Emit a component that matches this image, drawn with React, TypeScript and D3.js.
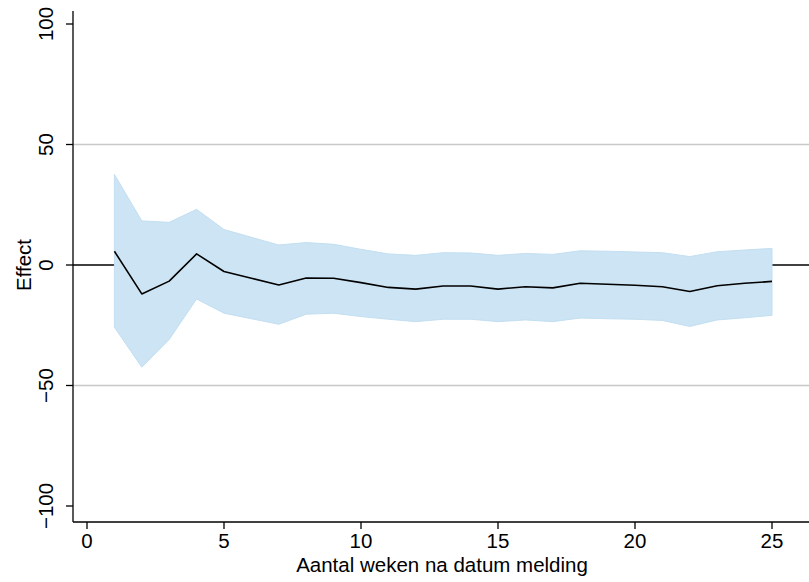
import React, { useEffect, useRef } from "react";
import * as d3 from "d3";

const weeks = [1, 2, 3, 4, 5, 6, 7, 8, 9, 10, 11, 12, 13, 14, 15, 16, 17, 18, 19, 20, 21, 22, 23, 24, 25];
const effect = [5.7, -12, -6.7, 4.6, -2.7, -5.5, -8.3, -5.4, -5.5, -7.3, -9.3, -10, -8.7, -8.7, -10, -9, -9.5, -7.6, -8, -8.4, -9, -11, -8.6, -7.6, -6.8];
const upper = [37.6, 18.3, 17.7, 23.1, 14.7, 11.5, 8.3, 9.3, 8.6, 6.5, 4.6, 4, 5.1, 5, 4, 4.8, 4.4, 5.9, 5.7, 5.4, 5.1, 3.5, 5.5, 6.2, 6.9];
const lower = [-25.8, -42.4, -30.9, -14.1, -20, -22.3, -24.6, -20.4, -20, -21.4, -22.5, -23.5, -22.5, -22.5, -23.5, -22.8, -23.5, -22, -22.3, -22.5, -23, -25.5, -22.8, -21.9, -20.9];
const xTicks = [0, 5, 10, 15, 20, 25];
const yTicks = [-100, -50, 0, 50, 100];
const gridValues = [-50, 50];

const W = 809;
const H = 582;
const font = "'Liberation Sans', Arial, Helvetica, sans-serif";
const fs = "20.5px";

export default function App() {
  const svgRef = useRef<SVGSVGElement>(null);

  useEffect(() => {
    const svg = d3.select(svgRef.current);
    svg.selectAll("*").remove();

    const left = 73;
    const right = 809;
    const top = 11;
    const bottom = 522;

    const x = d3.scaleLinear().domain([0, 25]).range([87, 772]);
    const y = d3.scaleLinear().domain([-100, 100]).range([506, 24]);

    // grid lines
    svg
      .selectAll(null)
      .data(gridValues)
      .enter()
      .append("line")
      .attr("x1", left)
      .attr("x2", right)
      .attr("y1", (d) => y(d))
      .attr("y2", (d) => y(d))
      .attr("stroke", "#c8c8c8")
      .attr("stroke-width", 1.3);

    // zero line
    svg
      .append("line")
      .attr("x1", left)
      .attr("x2", right)
      .attr("y1", y(0))
      .attr("y2", y(0))
      .attr("stroke", "#000")
      .attr("stroke-width", 1.6);

    const rows = weeks.map((w, i) => ({ w, e: effect[i], lo: lower[i], hi: upper[i] }));

    const area = d3
      .area<{ w: number; lo: number; hi: number }>()
      .x((d) => x(d.w))
      .y0((d) => y(d.lo))
      .y1((d) => y(d.hi));

    svg
      .append("path")
      .datum(rows)
      .attr("d", area)
      .attr("fill", "#cce4f3")
      .attr("stroke", "#c3dff2")
      .attr("stroke-width", 1);

    const line = d3
      .line<{ w: number; e: number }>()
      .x((d) => x(d.w))
      .y((d) => y(d.e));

    svg
      .append("path")
      .datum(rows)
      .attr("d", line)
      .attr("fill", "none")
      .attr("stroke", "#000")
      .attr("stroke-width", 1.6)
      .attr("stroke-linejoin", "round");

    // axes lines
    svg
      .append("line")
      .attr("x1", left)
      .attr("x2", left)
      .attr("y1", top)
      .attr("y2", bottom)
      .attr("stroke", "#000")
      .attr("stroke-width", 1.3);
    svg
      .append("line")
      .attr("x1", left)
      .attr("x2", right)
      .attr("y1", bottom)
      .attr("y2", bottom)
      .attr("stroke", "#000")
      .attr("stroke-width", 1.3);

    // x ticks
    const xt = svg.selectAll(null).data(xTicks).enter().append("g");
    xt.append("line")
      .attr("x1", (d) => x(d))
      .attr("x2", (d) => x(d))
      .attr("y1", bottom)
      .attr("y2", bottom + 7)
      .attr("stroke", "#000")
      .attr("stroke-width", 1.3);
    xt.append("text")
      .attr("x", (d) => x(d))
      .attr("y", 548)
      .attr("text-anchor", "middle")
      .style("font-family", font)
      .style("font-size", fs)
      .text((d) => d);

    // y ticks
    const yt = svg.selectAll(null).data(yTicks).enter().append("g");
    yt.append("line")
      .attr("x1", left - 7)
      .attr("x2", left)
      .attr("y1", (d) => y(d))
      .attr("y2", (d) => y(d))
      .attr("stroke", "#000")
      .attr("stroke-width", 1.3);
    yt.append("text")
      .attr("transform", (d) => `translate(53,${y(d)}) rotate(-90)`)
      .attr("text-anchor", "middle")
      .style("font-family", font)
      .style("font-size", fs)
      .text((d) => (d < 0 ? `\u2212${Math.abs(d)}` : `${d}`));

    // axis titles
    svg
      .append("text")
      .attr("x", 442)
      .attr("y", 572)
      .attr("text-anchor", "middle")
      .style("font-family", font)
      .style("font-size", fs)
      .text("Aantal weken na datum melding");

    svg
      .append("text")
      .attr("transform", `translate(31,${y(0)}) rotate(-90)`)
      .attr("text-anchor", "middle")
      .style("font-family", font)
      .style("font-size", fs)
      .text("Effect");
  }, []);

  return (
    <svg
      ref={svgRef}
      width={W}
      height={H}
      style={{ position: "absolute", left: 0, top: 0, background: "#fff" }}
    />
  );
}
